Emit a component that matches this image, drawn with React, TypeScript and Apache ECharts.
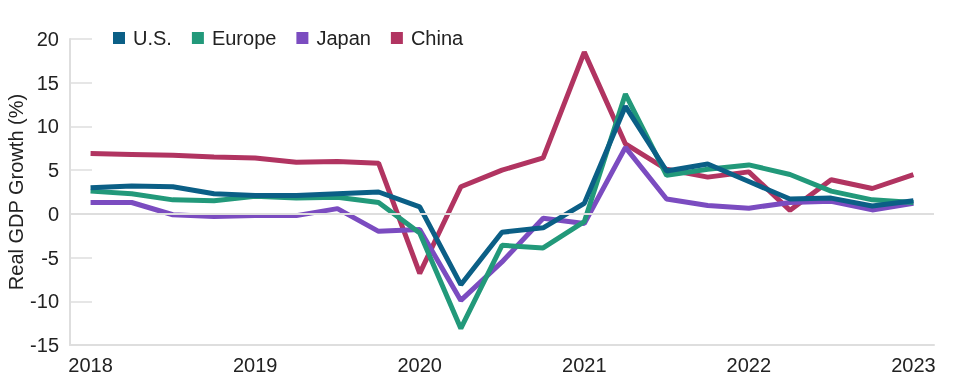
import React, { useEffect, useRef } from "react";
import * as echarts from "echarts";

const quarters: string[] = [
  "2018 Q1", "2018 Q2", "2018 Q3", "2018 Q4",
  "2019 Q1", "2019 Q2", "2019 Q3", "2019 Q4",
  "2020 Q1", "2020 Q2", "2020 Q3", "2020 Q4",
  "2021 Q1", "2021 Q2", "2021 Q3", "2021 Q4",
  "2022 Q1", "2022 Q2", "2022 Q3", "2022 Q4",
  "2023 Q1",
];

const us: number[] = [3.0, 3.2, 3.1, 2.3, 2.1, 2.1, 2.3, 2.5, 0.8, -8.1, -2.1, -1.6, 1.2, 12.3, 4.9, 5.7, 3.7, 1.7, 1.8, 0.9, 1.5];
const europe: number[] = [2.6, 2.3, 1.6, 1.5, 2.0, 1.8, 1.9, 1.3, -2.2, -13.1, -3.6, -3.9, -0.9, 13.7, 4.4, 5.1, 5.6, 4.5, 2.6, 1.6, 1.3];
const japan: number[] = [1.3, 1.3, -0.1, -0.3, -0.2, -0.2, 0.6, -2.0, -1.8, -9.9, -5.5, -0.5, -1.1, 7.6, 1.7, 0.95, 0.65, 1.3, 1.45, 0.45, 1.2];
const china: number[] = [6.9, 6.8, 6.7, 6.5, 6.4, 5.9, 6.0, 5.8, -6.8, 3.1, 5.0, 6.4, 18.5, 8.0, 5.1, 4.2, 4.8, 0.4, 3.9, 2.9, 4.5];

const seriesNames: string[] = ["U.S.", "Europe", "Japan", "China"];
const yTicks = { min: -15, max: 20, step: 5 };

const COLORS: Record<string, string> = {
  "U.S.": "#0b5f86",
  Europe: "#22997a",
  Japan: "#7b4cc0",
  China: "#b13461",
};

const FONT = "Helvetica, Arial, 'Liberation Sans', sans-serif";
const TEXT = "#222222";
const AXIS = "#dedede";

export default function App() {
  const ref = useRef<HTMLDivElement>(null);

  useEffect(() => {
    if (!ref.current) return;
    const chart = echarts.init(ref.current, null, { renderer: "svg" });
    const dataMap: Record<string, number[]> = {
      "U.S.": us,
      Europe: europe,
      Japan: japan,
      China: china,
    };
    const drawOrder = ["China", "Japan", "Europe", "U.S."];
    const lineSeries = drawOrder.map((name) => ({
      name,
      type: "line",
      data: dataMap[name],
      showSymbol: false,
      symbol: "none",
      lineStyle: { color: COLORS[name], width: 5 },
      itemStyle: { color: COLORS[name] },
      z: 3,
    }));

    chart.setOption({
      animation: false,
      textStyle: { fontFamily: FONT },
      grid: {
        left: 70,
        right: 26,
        top: 39,
        bottom: 47,
        containLabel: false,
        outerBoundsMode: "none",
      },
      legend: {
        data: seriesNames,
        top: 23,
        left: 108,
        icon: "rect",
        itemWidth: 12,
        itemHeight: 12,
        itemGap: 20,
        textStyle: { fontSize: 20, color: TEXT, fontFamily: FONT, padding: [0, 0, 0, 3] },
      },
      xAxis: {
        type: "category",
        data: quarters,
        boundaryGap: true,
        axisLine: { onZero: false, lineStyle: { color: AXIS, width: 2 } },
        axisTick: { show: false },
        axisLabel: {
          interval: 3,
          formatter: (v: string) => v.slice(0, 4),
          fontSize: 20,
          color: TEXT,
          margin: 10,
          fontFamily: FONT,
        },
        splitLine: { show: false },
      },
      yAxis: {
        type: "value",
        min: yTicks.min,
        max: yTicks.max,
        interval: yTicks.step,
        name: "Real GDP Growth (%)",
        nameLocation: "middle",
        nameGap: 44,
        nameMoveOverlap: false,
        nameTextStyle: { fontSize: 20, color: TEXT, fontFamily: FONT },
        axisLine: { show: true, lineStyle: { color: AXIS, width: 2 } },
        axisTick: { show: true, inside: true, length: 22, lineStyle: { color: AXIS, width: 1.5 } },
        axisLabel: { fontSize: 20, color: TEXT, margin: 11, fontFamily: FONT },
        splitLine: { show: false },
      },
      series: [
        {
          type: "line",
          data: [],
          z: 1,
          markLine: {
            silent: true,
            symbol: ["none", "none"],
            label: { show: false },
            lineStyle: { color: AXIS, width: 2, type: "solid" },
            data: [{ yAxis: 0 }],
          },
        },
        ...lineSeries,
      ],
    });

    return () => chart.dispose();
  }, []);

  return (
    <div
      ref={ref}
      style={{ position: "fixed", left: 0, top: 0, width: 960, height: 392 }}
    />
  );
}
